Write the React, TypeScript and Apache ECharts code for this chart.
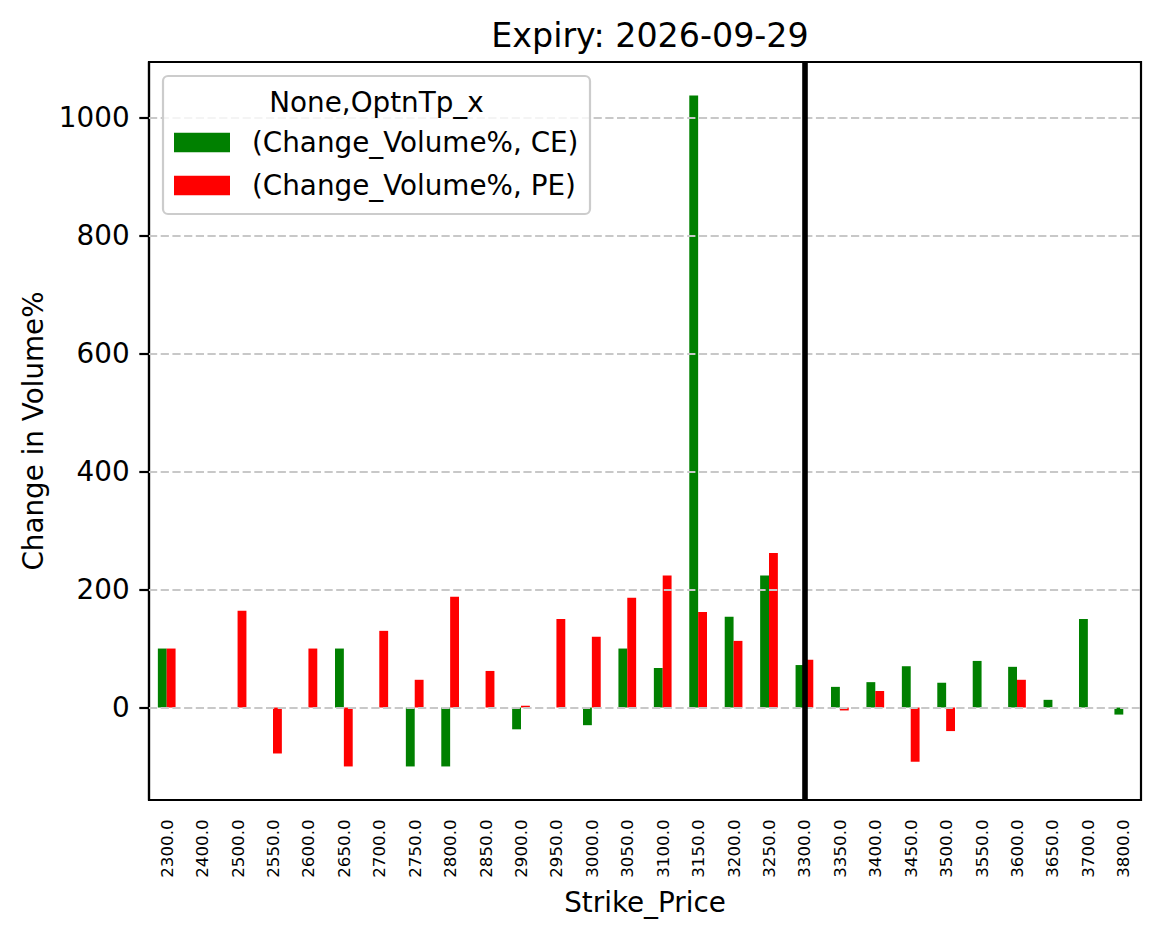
import { useEffect, useRef } from "react";
import * as echarts from "echarts";

const strikes = [
  "2300.0", "2400.0", "2500.0", "2550.0", "2600.0", "2650.0", "2700.0",
  "2750.0", "2800.0", "2850.0", "2900.0", "2950.0", "3000.0", "3050.0",
  "3100.0", "3150.0", "3200.0", "3250.0", "3300.0", "3350.0", "3400.0",
  "3450.0", "3500.0", "3550.0", "3600.0", "3650.0", "3700.0", "3800.0",
];

// (Change_Volume%, CE)
const ceChange = [
  100, null, null, null, null, 100, null, -100, -100, null, -37, null, -30, 100,
  67, 1038, 154, 224, 72, 35, 43, 70, 42, 79, 69, 13, 150, -12,
];

// (Change_Volume%, PE)
const peChange = [
  100, null, 164, -78, 100, -100, 130, 47, 188, 62, 3, 150, 120, 186,
  224, 162, 113, 262, 81, -5, 28, -92, -40, null, 47, null, null, null,
];

const yTicks = [0, 200, 400, 600, 800, 1000];
const spotStrike = "3300.0";

const ceName = "(Change_Volume%, CE)";
const peName = "(Change_Volume%, PE)";
const legendTitle = "None,OptnTp_x";

const FONT = "DejaVu Sans";

export default function App() {
  const ref = useRef<HTMLDivElement | null>(null);

  useEffect(() => {
    if (!ref.current) return;
    const chart = echarts.init(ref.current, undefined, { renderer: "svg" });

    const legendBase = {
      orient: "vertical",
      left: 174,
      itemWidth: 56,
      itemHeight: 19.4,
      icon: "rect",
      padding: 0,
      selectedMode: false,
      z: 110,
      textStyle: {
        fontFamily: FONT,
        fontSize: 27.8,
        color: "#000",
        lineHeight: 28,
        padding: [0, 0, 0, 17],
      },
    };

    chart.setOption({
      animation: false,
      textStyle: { fontFamily: FONT },
      title: {
        text: "Expiry: 2026-09-29",
        left: 645,
        textAlign: "center",
        top: 14,
        textStyle: { fontFamily: FONT, fontSize: 33.3, fontWeight: "normal", color: "#000" },
      },
      grid: {
        left: 149,
        right: 20,
        top: 62,
        bottom: 139,
        show: true,
        borderColor: "#000",
        borderWidth: 2.2,
      },
      legend: [
        { ...legendBase, top: 128.5, data: [ceName] },
        { ...legendBase, top: 171.5, data: [peName] },
      ],
      xAxis: {
        type: "category",
        data: strikes,
        name: "Strike_Price",
        nameLocation: "middle",
        nameGap: 88,
        nameTextStyle: { fontFamily: FONT, fontSize: 27.8, color: "#000" },
        axisLine: { onZero: false, lineStyle: { color: "#000", width: 2.2 } },
        axisTick: { alignWithLabel: true, length: 9.7, lineStyle: { color: "#000", width: 2.2 } },
        axisLabel: { rotate: 90, margin: 19.4, fontSize: 16.7, color: "#000", fontFamily: FONT },
        splitLine: { show: false },
      },
      yAxis: {
        type: "value",
        min: -156.9,
        max: 1094.9,
        name: "Change in Volume%",
        nameLocation: "middle",
        nameGap: 92,
        nameTextStyle: { fontFamily: FONT, fontSize: 27.8, color: "#000" },
        axisLine: { show: true, lineStyle: { color: "#000", width: 2.2 } },
        axisTick: {
          show: true,
          length: 9.7,
          customValues: yTicks,
          lineStyle: { color: "#000", width: 2.2 },
        },
        axisLabel: {
          margin: 19.4,
          fontSize: 27.8,
          color: "#000",
          fontFamily: FONT,
          customValues: yTicks,
          formatter: (v: number) => String(v),
        },
        splitLine: { show: false },
      },
      series: [
        {
          name: ceName,
          type: "bar",
          data: ceChange,
          barWidth: 8.86,
          barGap: "0%",
          itemStyle: { color: "#008000" },
          emphasis: { disabled: true },
        },
        {
          name: peName,
          type: "bar",
          data: peChange,
          barWidth: 8.86,
          barGap: "0%",
          itemStyle: { color: "#ff0000" },
          emphasis: { disabled: true },
        },
        {
          // horizontal grid lines, drawn above the bars
          name: "grid",
          type: "line",
          data: [],
          z: 5,
          silent: true,
          markLine: {
            symbol: "none",
            silent: true,
            label: { show: false },
            lineStyle: { color: "#c8c8c8", width: 2.2, type: [8.2, 3.5] },
            data: yTicks.map((v) => ({ yAxis: v })),
          },
        },
        {
          // current spot strike
          name: "spot",
          type: "line",
          data: [],
          z: 6,
          silent: true,
          markLine: {
            symbol: "none",
            silent: true,
            label: { show: false },
            lineStyle: { color: "#000", width: 5.6, type: "solid" },
            data: [{ xAxis: spotStrike }],
          },
        },
      ],
      graphic: [
        {
          type: "rect",
          z: 100,
          shape: { x: 163, y: 76, width: 427, height: 138, r: 5 },
          style: { fill: "rgba(255,255,255,0.8)", stroke: "#cccccc", lineWidth: 2.2 },
        },
        {
          type: "text",
          z: 101,
          x: 376.5,
          y: 102,
          style: {
            text: legendTitle,
            fill: "#000",
            font: `27.8px "${FONT}"`,
            align: "center",
            verticalAlign: "middle",
          },
        },
      ],
    });

    return () => chart.dispose();
  }, []);

  return (
    <div
      ref={ref}
      style={{ position: "fixed", left: 0, top: 0, width: 1161, height: 939, background: "#fff" }}
    />
  );
}
